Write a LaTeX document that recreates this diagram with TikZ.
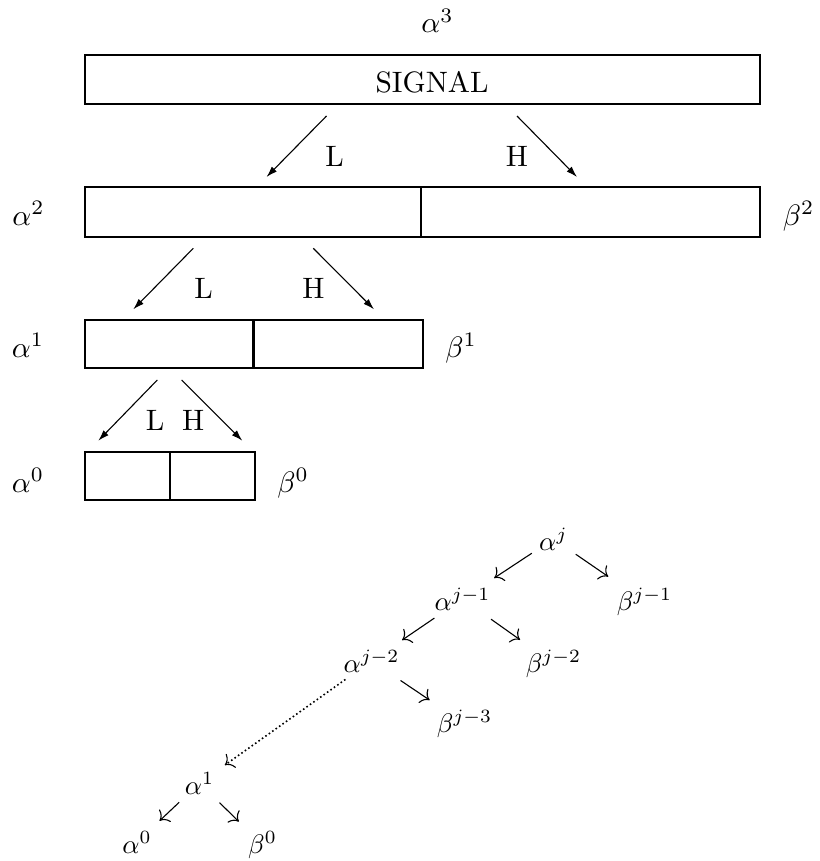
\documentclass[tikz,border=0pt]{standalone}
\usetikzlibrary{arrows.meta}
\begin{document}
\begin{tikzpicture}[x=1pt,y=-1pt,
  box/.style={draw, line width=1.6pt, rectangle, inner sep=0pt, outer sep=0pt},
  lab/.style={inner sep=0pt, outer sep=0pt, anchor=base, scale=2.95},
  tlab/.style={inner sep=0pt, outer sep=0pt, anchor=base, scale=2.68},
  arr/.style={line width=1.1pt, -{Latex[length=11pt,width=7pt]}},
  tarr/.style={line width=1.1pt, -{To[length=8pt,width=17pt]}},
  darr/.style={line width=1.6pt, dash pattern=on 1.6pt off 2.6pt, -{To[length=8pt,width=17pt,line width=1.1pt]}},
  divider/.style={line width=2.6pt}]
\useasboundingbox (0,0) rectangle (819,861);

% ---------- upper part: boxes ----------
\node[box, minimum width=675pt, minimum height=49pt] (sig) at (422.5,79.5) {};
\node[lab] (sigtxt) at (432,93) {SIGNAL};
\node[lab] (a3) at (437.5,33) {$\alpha^3$};

\node[box, minimum width=336pt, minimum height=50pt] (a2L) at (253,212) {};
\node[box, minimum width=339pt, minimum height=50pt] (a2R) at (590.5,212) {};
\draw[divider] (a2L.north east) -- (a2L.south east);

\node[box, minimum width=168.5pt, minimum height=48pt] (a1L) at (169.25,344) {};
\node[box, minimum width=169.5pt, minimum height=48pt] (a1R) at (338.25,344) {};
\draw[divider] (a1L.north east) -- (a1L.south east);

\node[box, minimum width=85pt, minimum height=48pt] (a0L) at (127.5,476) {};
\node[box, minimum width=85pt, minimum height=48pt] (a0R) at (212.5,476) {};
\draw[divider] (a0L.north east) -- (a0L.south east);

% side labels
\node[lab] (la2) at (28.5,225) {$\alpha^2$};
\node[lab] (lb2) at (798.5,225) {$\beta^2$};
\node[lab] (la1) at (28,357) {$\alpha^1$};
\node[lab] (lb1) at (461,357) {$\beta^1$};
\node[lab] (la0) at (28,492) {$\alpha^0$};
\node[lab] (lb0) at (293,492) {$\beta^0$};

% L / H arrows
\coordinate (L3s) at (326.5,116); \coordinate (L3e) at (266.5,177);
\coordinate (H3s) at (517,116);   \coordinate (H3e) at (577,177);
\draw[arr] (L3s) -- (L3e);
\draw[arr] (H3s) -- (H3e);
\node[lab] (L3) at (334.5,167) {L};
\node[lab] (H3) at (517,167) {H};

\coordinate (L2s) at (193.3,248.3); \coordinate (L2e) at (133.3,309.3);
\coordinate (H2s) at (313.3,248.3); \coordinate (H2e) at (374,309.3);
\draw[arr] (L2s) -- (L2e);
\draw[arr] (H2s) -- (H2e);
\node[lab] (L2) at (203.5,298) {L};
\node[lab] (H2) at (313.5,298) {H};

\coordinate (L1s) at (157.3,380); \coordinate (L1e) at (98.3,440.7);
\coordinate (H1s) at (181.7,380); \coordinate (H1e) at (242.3,440.7);
\draw[arr] (L1s) -- (L1e);
\draw[arr] (H1s) -- (H1e);
\node[lab] (L1) at (155,430) {L};
\node[lab] (H1) at (193.3,430) {H};

% ---------- lower part: tree ----------
\node[tlab] (aj)  at (553.5,550) {$\alpha^j$};
\node[tlab] (aj1) at (462.5,610) {$\alpha^{j-1}$};
\node[tlab] (bj1) at (644.5,610) {$\beta^{j-1}$};
\node[tlab] (aj2) at (371.5,672) {$\alpha^{j-2}$};
\node[tlab] (bj2) at (553.5,672) {$\beta^{j-2}$};
\node[tlab] (bj3) at (464.5,732) {$\beta^{j-3}$};
\node[tlab] (t1)  at (199.5,794) {$\alpha^1$};
\node[tlab] (t0)  at (137,853) {$\alpha^0$};
\node[tlab] (tb0) at (262.5,853) {$\beta^0$};

\draw[tarr, shorten <=26pt, shorten >=38pt] (aj.center) -- (aj1.center);
\draw[tarr, shorten <=27pt, shorten >=44pt] (aj.center) -- (bj1.center);
\draw[tarr, shorten <=34pt, shorten >=37pt] (aj1.center) -- (aj2.center);
\draw[tarr, shorten <=35pt, shorten >=41pt] (aj1.center) -- (bj2.center);
\draw[tarr, shorten <=35pt, shorten >=42pt] (aj2.center) -- (bj3.center);
\draw[darr, shorten <=32pt, shorten >=31pt] (aj2.center) -- (t1.center);
\draw[tarr, shorten <=28pt, shorten >=31pt] (t1.center) -- (t0.center);
\draw[tarr, shorten <=28pt, shorten >=33pt] (t1.center) -- (tb0.center);
\end{tikzpicture}
\end{document}
